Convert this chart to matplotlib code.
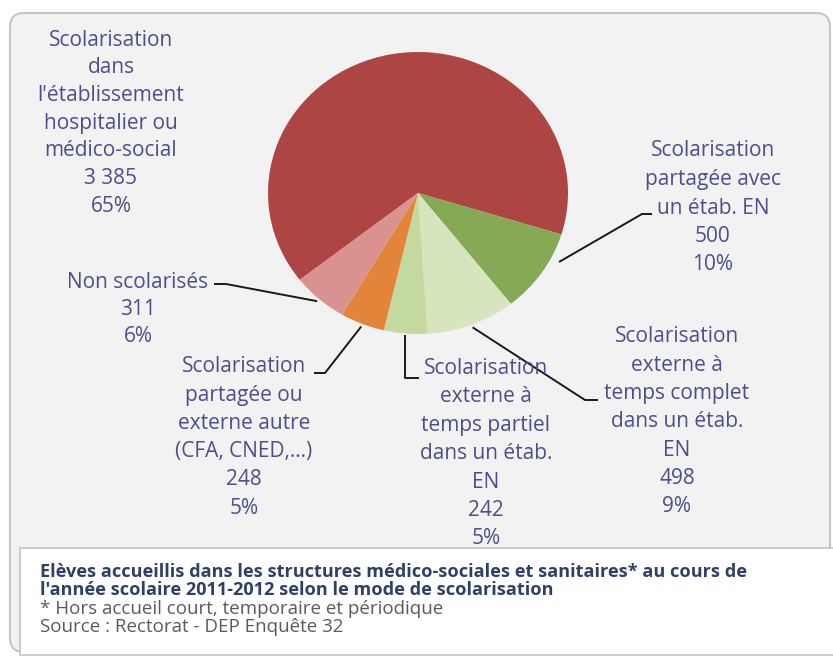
import numpy as np
import matplotlib
matplotlib.use("Agg")
import matplotlib.pyplot as plt
from matplotlib.patches import FancyBboxPatch, Rectangle

plt.rcParams["font.family"] = ["Open Sans", "DejaVu Sans"]

# data (clockwise from the top-left edge of the red slice)
categories = [
    "Scolarisation dans l'établissement hospitalier ou médico-social",
    "Scolarisation partagée avec un étab. EN",
    "Scolarisation externe à temps complet dans un étab. EN",
    "Scolarisation externe à temps partiel dans un étab. EN",
    "Scolarisation partagée ou externe autre (CFA, CNED,...)",
    "Non scolarisés",
]
values = [3385, 500, 498, 242, 248, 311]
value_labels = ["3 385", "500", "498", "242", "248", "311"]
pct_labels = ["65%", "10%", "9%", "5%", "5%", "6%"]
colors = ["#AD4643", "#85A955", "#D7E5BE", "#C3D9A0", "#E3843B", "#D99290"]

label_lines = [
    ["Scolarisation", "dans", "l'établissement", "hospitalier ou", "médico-social"],
    ["Scolarisation", "partagée avec", "un étab. EN"],
    ["Scolarisation", "externe à", "temps complet", "dans un étab.", "EN"],
    ["Scolarisation", "externe à", "temps partiel", "dans un étab.", "EN"],
    ["Scolarisation", "partagée ou", "externe autre", "(CFA, CNED,...)"],
    ["Non scolarisés"],
]

W, H = 833, 657
fig = plt.figure(figsize=(W / 100, H / 100), dpi=100)
fig.patch.set_facecolor("white")

# background: grey rounded panel and the white caption box
ax_bg = fig.add_axes([0, 0, 1, 1], zorder=0)
ax_bg.set_xlim(0, W)
ax_bg.set_ylim(H, 0)
ax_bg.axis("off")
ax_bg.add_patch(FancyBboxPatch((10, 13), 820, 639, boxstyle="round,pad=0,rounding_size=14",
                               facecolor="#F2F2F2", edgecolor="#C4C4C4", linewidth=1.5))
ax_bg.add_patch(Rectangle((20, 548), 830, 107, facecolor="white", edgecolor="#C4C4C4", linewidth=1.2))

# pie (slightly wider than tall, as in the reference)
cx, cy, rx, ry = 418, 193, 150, 141
ax_pie = fig.add_axes([(cx - rx) / W, 1 - (cy + ry) / H, 2 * rx / W, 2 * ry / H], zorder=1)
wedges, _ = ax_pie.pie(values, colors=colors, startangle=218, counterclock=False,
                       wedgeprops=dict(linewidth=0))
ax_pie.set_aspect("auto")
ax_pie.set_xlim(-1, 1)
ax_pie.set_ylim(-1, 1)
ax_pie.patch.set_alpha(0)

# overlay for labels and leader lines, in pixel coordinates
ax_top = fig.add_axes([0, 0, 1, 1], zorder=2)
ax_top.set_xlim(0, W)
ax_top.set_ylim(H, 0)
ax_top.axis("off")
ax_top.patch.set_alpha(0)

label_color = "#4E4E8C"

# label block: centre x, y of first line, line pitch
label_pos = [(111, 40, 27.7), (713, 151, 28.5), (677, 337, 28.3),
             (486, 368, 28.5), (244, 367, 28.2), (138, 282, 27.5)]
for lines, vl, p, (x, y0, step) in zip(label_lines, value_labels, pct_labels, label_pos):
    for k, s in enumerate(lines + [vl, p]):
        ax_top.text(x, y0 + k * step, s, ha="center", va="center",
                    fontsize=15, color=label_color)


def edge_point(w, frac=0.5, r=1.02):
    # point on the slice rim, frac measured from the clockwise-first edge
    ang = np.deg2rad(w.theta2 - frac * (w.theta2 - w.theta1))
    return ax_top.transData.inverted().transform(
        ax_pie.transData.transform((r * np.cos(ang), r * np.sin(ang))))


# leader lines: from the slice edge to the label
bends = {1: (0.3, 1.06, [(642, 214), (652, 214)]),
         2: (0.5, 1.02, [(585, 400), (598, 400)]),
         4: (0.5, 1.02, [(325, 373), (314, 373)]),
         5: (0.5, 1.02, [(226, 284), (214, 284)])}
for i, (frac, r, pts) in bends.items():
    p0 = edge_point(wedges[i], frac, r)
    xs = [p0[0]] + [q[0] for q in pts]
    ys = [p0[1]] + [q[1] for q in pts]
    ax_top.plot(xs, ys, color="#1A1A1A", linewidth=1.4, solid_capstyle="butt")

# mid green slice: vertical drop then short hook
p0 = edge_point(wedges[3])
ax_top.plot([p0[0], p0[0], p0[0] + 13], [p0[1], 378, 378], color="#1A1A1A", linewidth=1.4)

# caption
ax_top.text(40, 572, "Elèves accueillis dans les structures médico-sociales et sanitaires* au cours de",
            fontsize=13.1, fontweight="bold", color="#2F4068", va="center")
ax_top.text(40, 590, "l'année scolaire 2011-2012 selon le mode de scolarisation",
            fontsize=13.1, fontweight="bold", color="#2F4068", va="center")
ax_top.text(40, 609, "* Hors accueil court, temporaire et périodique",
            fontsize=13.5, color="#5A5A5A", va="center")
ax_top.text(40, 627, "Source : Rectorat - DEP Enquête 32",
            fontsize=13.5, color="#5A5A5A", va="center")

fig.savefig("out.png", dpi=100)
